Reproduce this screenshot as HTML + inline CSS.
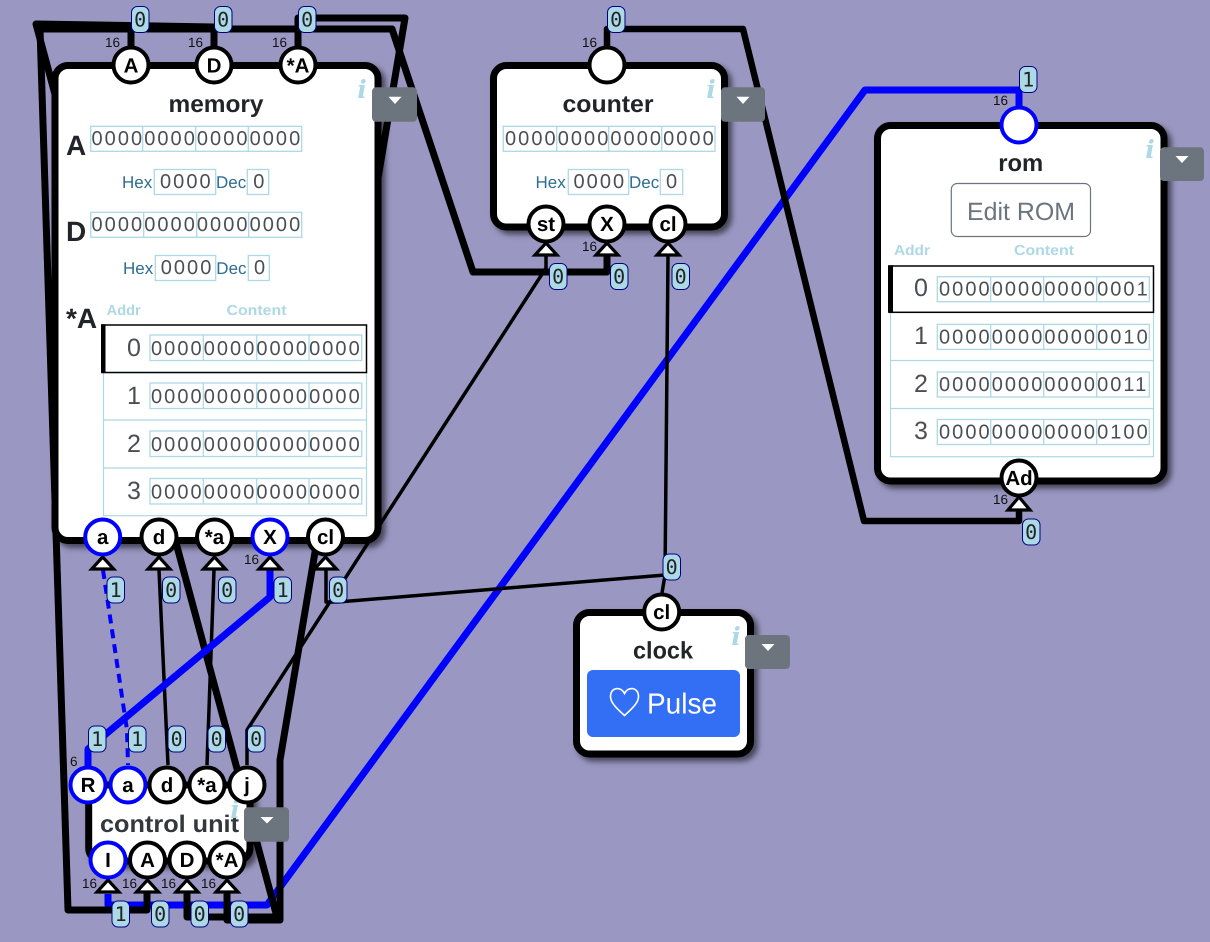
<!DOCTYPE html>
<html><head><meta charset="utf-8"><title>Diagram</title>
<style>
html,body{margin:0;padding:0;background:#9a98c2}
svg{display:block}
text{font-family:"Liberation Sans",sans-serif;fill:#212529;text-rendering:geometricPrecision}
.w{fill:none;stroke:#000;stroke-width:7;stroke-linejoin:round;stroke-linecap:round}
.t{fill:none;stroke:#000;stroke-width:3.5;stroke-linejoin:round}
.b{fill:none;stroke:#00f;stroke-width:7;stroke-linejoin:round}
.n{fill:#fff;stroke:#000;stroke-width:7;filter:drop-shadow(4px 4px 3px rgba(0,0,0,.55))}
.p{fill:#fff;stroke:#000;stroke-width:4}
.pb{fill:#fff;stroke:#00f;stroke-width:4}
.pt{font-size:20.5px;font-weight:700;text-anchor:middle;fill:#000}
.tri{fill:#fff;stroke:#000;stroke-width:3.2;stroke-linejoin:miter}
.l{fill:#add8e6;stroke:#000080;stroke-width:1}
.lt{font-family:"DejaVu Sans Mono",monospace;font-size:20px;text-anchor:middle;fill:#212529}
.s{font-size:13.5px;fill:#111}
.ti{font-size:24px;font-weight:700;text-anchor:middle}
.i{font-family:"DejaVu Serif",serif;font-size:25px;font-weight:700;font-style:italic;fill:#add8e6;text-anchor:middle}
.dd{fill:#6c757d}
.ar{fill:#fff}
.r{fill:#fff;stroke:#add8e6;stroke-width:1.3}
.rl{stroke:#add8e6;stroke-width:1.3}
.d{font-size:20px;letter-spacing:2.05px;fill:#4a4f54}
.a{font-size:25px;fill:#4a4f54}
.h{font-size:17px;fill:#2f6f91}
.big{font-size:28px;font-weight:700}
.th{font-size:14.5px;font-weight:700;fill:#add8e6}
</style></head><body>
<svg width="1210" height="942" viewBox="0 0 1210 942" xmlns="http://www.w3.org/2000/svg">
<rect width="1210" height="942" fill="#9a98c2"/>

<!-- wires -->
<polyline class="b" points="108,894 108,905 267,905 865,90 1019,90 1019,106"/>
<polyline class="w" points="131,46 131,29"/>
<polyline class="w" points="392,29 40,29 68,910 147,910 147,894"/>
<polyline class="w" points="214,46 214,27 36,24 277,917 187,917 187,894"/>
<polyline class="w" points="298,46 298,18 405,18 280,760 280,920 227,920 227,894"/>
<polyline class="w" points="392,29 473,272 607,272 607,256"/>
<polyline class="w" style="stroke-width:6.5" points="607,46 607,29 743,29 864,521 1019,521 1019,510"/>
<polyline class="t" points="247,765 247,730 546,268 546,256"/>
<polyline class="t" points="662,593 665,575 338,602 326,602 326,570"/>
<polyline class="t" points="665,577 668,256"/>
<polyline class="t" points="159,570 168,765"/>
<polyline class="t" points="214,570 207,765"/>
<polyline class="b" points="270,570 270,597 88,749 88,766"/>
<polyline points="103,570 127,730 128,765" fill="none" stroke="#00f" stroke-width="4" stroke-dasharray="9 6"/>

<!-- memory node -->
<rect class="n" x="55" y="65.5" width="323" height="475" rx="13"/>
<text class="ti" x="216" y="112" textLength="95" lengthAdjust="spacingAndGlyphs">memory</text>
<text class="i" x="362" y="98">i</text>
<text class="big" x="66" y="155">A</text>
<text class="big" x="66" y="241">D</text>
<text class="big" x="66" y="328">*A</text>

<rect class="r" x="90.7" y="126.3" width="211" height="25"/>
<line class="rl" x1="142.7" y1="126" x2="142.7" y2="151"/><line class="rl" x1="195.7" y1="126" x2="195.7" y2="151"/><line class="rl" x1="248.3" y1="126" x2="248.3" y2="151"/>
<text class="d" x="91.5" y="145">0000000000000000</text>
<text class="h" x="122" y="188">Hex</text>
<rect class="r" x="154.3" y="169.5" width="61.4" height="25"/>
<text class="d" x="160" y="188">0000</text>
<text class="h" x="216" y="188">Dec</text>
<rect class="r" x="247.3" y="169.5" width="21.4" height="25"/>
<text class="d" x="253.3" y="188">0</text>

<rect class="r" x="90.7" y="212.3" width="211" height="25"/>
<line class="rl" x1="143.7" y1="212" x2="143.7" y2="237"/><line class="rl" x1="196.7" y1="212" x2="196.7" y2="237"/><line class="rl" x1="248.7" y1="212" x2="248.7" y2="237"/>
<text class="d" x="91.5" y="231">0000000000000000</text>
<text class="h" x="123" y="274">Hex</text>
<rect class="r" x="155.3" y="255.5" width="60.4" height="25"/>
<text class="d" x="160.7" y="274">0000</text>
<text class="h" x="216.3" y="274">Dec</text>
<rect class="r" x="248.3" y="255.5" width="21" height="25"/>
<text class="d" x="254" y="274">0</text>

<text class="th" x="106.7" y="315" textLength="34" lengthAdjust="spacingAndGlyphs">Addr</text>
<text class="th" x="226.5" y="315" textLength="60" lengthAdjust="spacingAndGlyphs">Content</text>
<g>
<rect x="103.5" y="372.7" width="263" height="143" fill="#fff" stroke="#add8e6" stroke-width="1.2"/>
<line class="rl" x1="103.5" y1="420" x2="366.5" y2="420"/><line class="rl" x1="103.5" y1="468" x2="366.5" y2="468"/>
<rect x="102" y="325" width="264.5" height="47.5" fill="#fff" stroke="#000" stroke-width="1.5"/>
<rect x="101" y="324.3" width="4.5" height="48.5" fill="#000"/>
<rect class="r" x="150" y="335" width="211.7" height="25.5"/>
<line class="rl" x1="203.3" y1="335" x2="203.3" y2="360"/><line class="rl" x1="256.7" y1="335" x2="256.7" y2="360"/><line class="rl" x1="309" y1="335" x2="309" y2="360"/>
<text class="a" x="127" y="356">0</text><text class="d" x="151" y="355">0000000000000000</text>
<rect class="r" x="150" y="383" width="211.7" height="25.5"/>
<line class="rl" x1="203.3" y1="383" x2="203.3" y2="408"/><line class="rl" x1="256.7" y1="383" x2="256.7" y2="408"/><line class="rl" x1="309" y1="383" x2="309" y2="408"/>
<text class="a" x="127" y="404">1</text><text class="d" x="151" y="403">0000000000000000</text>
<rect class="r" x="150" y="431" width="211.7" height="25.5"/>
<line class="rl" x1="203.3" y1="431" x2="203.3" y2="456"/><line class="rl" x1="256.7" y1="431" x2="256.7" y2="456"/><line class="rl" x1="309" y1="431" x2="309" y2="456"/>
<text class="a" x="127" y="452">2</text><text class="d" x="151" y="451">0000000000000000</text>
<rect class="r" x="150" y="478.5" width="211.7" height="25.5"/>
<line class="rl" x1="203.3" y1="478" x2="203.3" y2="504"/><line class="rl" x1="256.7" y1="478" x2="256.7" y2="504"/><line class="rl" x1="309" y1="478" x2="309" y2="504"/>
<text class="a" x="127" y="499">3</text><text class="d" x="151" y="498.5">0000000000000000</text>
</g>

<!-- counter node -->
<rect class="n" x="493.5" y="65.5" width="231" height="161.5" rx="13"/>
<text class="ti" x="608" y="112" textLength="91" lengthAdjust="spacingAndGlyphs">counter</text>
<text class="i" x="711" y="98">i</text>
<rect class="r" x="503.3" y="126.3" width="211.7" height="25"/>
<line class="rl" x1="556.7" y1="126" x2="556.7" y2="151"/><line class="rl" x1="608.7" y1="126" x2="608.7" y2="151"/><line class="rl" x1="661.7" y1="126" x2="661.7" y2="151"/>
<text class="d" x="505" y="145">0000000000000000</text>
<text class="h" x="535.5" y="188">Hex</text>
<rect class="r" x="568.3" y="169.5" width="60.4" height="25"/>
<text class="d" x="573.5" y="188">0000</text>
<text class="h" x="629" y="188">Dec</text>
<rect class="r" x="660.3" y="169.5" width="22.4" height="25"/>
<text class="d" x="666" y="188">0</text>

<!-- rom node -->
<rect class="n" x="877.5" y="125.5" width="286.5" height="355.5" rx="13"/>
<text class="ti" x="1020.7" y="171" textLength="45" lengthAdjust="spacingAndGlyphs">rom</text>
<text class="i" x="1150" y="158">i</text>
<rect x="951.3" y="183.5" width="139.2" height="53" rx="6" fill="#fff" stroke="#6c757d" stroke-width="1.2"/>
<text x="1021" y="220" font-size="25" text-anchor="middle" style="fill:#6c757d" textLength="108" lengthAdjust="spacingAndGlyphs">Edit ROM</text>
<text class="th" x="894" y="255" textLength="36" lengthAdjust="spacingAndGlyphs">Addr</text>
<text class="th" x="1014" y="255" textLength="60" lengthAdjust="spacingAndGlyphs">Content</text>
<rect x="890.5" y="312.5" width="263" height="144.2" fill="#fff" stroke="#add8e6" stroke-width="1.2"/>
<line class="rl" x1="890.5" y1="360.5" x2="1153.5" y2="360.5"/><line class="rl" x1="890.5" y1="408.5" x2="1153.5" y2="408.5"/>
<rect x="889" y="266" width="264.5" height="46.3" fill="#fff" stroke="#000" stroke-width="1.5"/>
<rect x="888" y="265.3" width="5" height="47" fill="#000"/>
<rect class="r" x="937.3" y="276.7" width="212" height="25"/>
<line class="rl" x1="990.7" y1="277" x2="990.7" y2="302"/><line class="rl" x1="1043.7" y1="277" x2="1043.7" y2="302"/><line class="rl" x1="1096.7" y1="277" x2="1096.7" y2="302"/>
<text class="a" x="914" y="296">0</text><text class="d" x="939" y="295.7">0000000000000001</text>
<rect class="r" x="937.3" y="324.4" width="212" height="25"/>
<line class="rl" x1="990.7" y1="324" x2="990.7" y2="349"/><line class="rl" x1="1043.7" y1="324" x2="1043.7" y2="349"/><line class="rl" x1="1096.7" y1="324" x2="1096.7" y2="349"/>
<text class="a" x="914" y="344">1</text><text class="d" x="939" y="343.3">0000000000000010</text>
<rect class="r" x="937.3" y="372" width="212" height="25"/>
<line class="rl" x1="990.7" y1="372" x2="990.7" y2="397"/><line class="rl" x1="1043.7" y1="372" x2="1043.7" y2="397"/><line class="rl" x1="1096.7" y1="372" x2="1096.7" y2="397"/>
<text class="a" x="914" y="392">2</text><text class="d" x="939" y="391">0000000000000011</text>
<rect class="r" x="937.3" y="419.5" width="212" height="25"/>
<line class="rl" x1="990.7" y1="420" x2="990.7" y2="444"/><line class="rl" x1="1043.7" y1="420" x2="1043.7" y2="444"/><line class="rl" x1="1096.7" y1="420" x2="1096.7" y2="444"/>
<text class="a" x="914" y="439">3</text><text class="d" x="939" y="438.3">0000000000000100</text>

<!-- clock node -->
<rect class="n" x="576.5" y="612.5" width="174" height="141.5" rx="13"/>
<text class="ti" x="663" y="658.5" textLength="60" lengthAdjust="spacingAndGlyphs">clock</text>
<text class="i" x="736" y="645">i</text>
<rect x="587" y="670" width="153" height="67" rx="6" fill="#326ff5"/>
<path d="M624.5 715.5 C615 707 610.5 702 610.5 696.5 C610.5 687 621 686 624.5 693.5 C628 686 638.5 687 638.5 696.5 C638.5 702 634 707 624.5 715.5 Z" fill="none" stroke="#fff" stroke-width="1.6"/>
<text x="647" y="713.5" font-size="29" style="fill:#fff" textLength="70" lengthAdjust="spacingAndGlyphs">Pulse</text>

<!-- control unit node -->
<rect class="n" x="88.7" y="785" width="161.3" height="76" rx="13"/>
<text class="ti" x="169.5" y="832" textLength="139" lengthAdjust="spacingAndGlyphs" style="fill:#33383d">control unit</text>
<text class="i" x="235" y="818">i</text>

<!-- dropdowns -->
<rect class="dd" x="372" y="87.3" width="45" height="34.5" rx="4"/><polygon class="ar" points="388.5,96.7 401.5,96.7 395,104"/>
<rect class="dd" x="721" y="87.3" width="44" height="34.5" rx="4"/><polygon class="ar" points="736.5,96.7 749.5,96.7 743,104"/>
<rect class="dd" x="1160" y="147.3" width="44" height="33.7" rx="4"/><polygon class="ar" points="1175.5,156 1188.5,156 1182,163"/>
<rect class="dd" x="745" y="635" width="45" height="34" rx="4"/><polygon class="ar" points="761.5,644 774.5,644 768,651"/>
<rect class="dd" x="244" y="807.3" width="45" height="34.5" rx="4"/><polygon class="ar" points="260.5,817 273.5,817 267,823.5"/>

<!-- triangles -->
<polygon class="tri" points="102.7,557 91.7,569 113.7,569"/>
<polygon class="tri" points="159,557 148,569 170,569"/>
<polygon class="tri" points="214.5,557 203.5,569 225.5,569"/>
<polygon class="tri" points="270,557 259,569 281,569"/>
<polygon class="tri" points="325.5,557 314.5,569 336.5,569"/>
<polygon class="tri" points="546,243 535,255 557,255"/>
<polygon class="tri" points="607,243 596,255 618,255"/>
<polygon class="tri" points="668,243 657,255 679,255"/>
<polygon class="tri" points="1019,497 1008,510 1030,510"/>
<polygon class="tri" points="108,880 97,892 119,892"/>
<polygon class="tri" points="147.5,880 136.5,892 158.5,892"/>
<polygon class="tri" points="187,880 176,892 198,892"/>
<polygon class="tri" points="227,880 216,892 238,892"/>

<!-- ports -->
<circle class="p" cx="131" cy="65" r="17.5"/><text class="pt" x="131" y="72.5">A</text>
<circle class="p" cx="214" cy="65" r="17.5"/><text class="pt" x="214" y="72.5">D</text>
<circle class="p" cx="298" cy="65" r="17.5"/><text class="pt" x="298" y="72.5">*A</text>
<circle class="pb" cx="102.7" cy="537" r="17.5"/><text class="pt" x="102.7" y="544">a</text>
<circle class="p" cx="159" cy="537" r="17.5"/><text class="pt" x="159" y="544">d</text>
<circle class="p" cx="214.5" cy="537" r="17.5"/><text class="pt" x="214.5" y="544">*a</text>
<circle class="pb" cx="270" cy="537" r="17.5"/><text class="pt" x="270" y="544">X</text>
<circle class="p" cx="325.5" cy="537" r="17.5"/><text class="pt" x="325.5" y="544">cl</text>
<circle class="p" cx="607" cy="65" r="17.5"/>
<circle class="p" cx="546" cy="224" r="17.5"/><text class="pt" x="546" y="231">st</text>
<circle class="p" cx="607" cy="224" r="17.5"/><text class="pt" x="607" y="231">X</text>
<circle class="p" cx="668" cy="224" r="17.5"/><text class="pt" x="668" y="231">cl</text>
<circle class="pb" cx="1019" cy="125" r="17.5"/>
<circle class="p" cx="1019" cy="478" r="17.5"/><text class="pt" x="1019" y="485">Ad</text>
<circle class="p" cx="661.7" cy="612" r="17.5"/><text class="pt" x="661.7" y="619">cl</text>
<circle class="pb" cx="88" cy="785" r="17.5"/><text class="pt" x="88" y="792">R</text>
<circle class="pb" cx="128" cy="785" r="17.5"/><text class="pt" x="128" y="792">a</text>
<circle class="p" cx="167" cy="785" r="17.5"/><text class="pt" x="167" y="792">d</text>
<circle class="p" cx="207" cy="785" r="17.5"/><text class="pt" x="207" y="792">*a</text>
<circle class="p" cx="247" cy="785" r="17.5"/><text class="pt" x="247" y="792">j</text>
<circle class="pb" cx="108" cy="860" r="17.5"/><text class="pt" x="108" y="867">I</text>
<circle class="p" cx="147.5" cy="860" r="17.5"/><text class="pt" x="147.5" y="867">A</text>
<circle class="p" cx="187" cy="860" r="17.5"/><text class="pt" x="187" y="867">D</text>
<circle class="p" cx="227" cy="860" r="17.5"/><text class="pt" x="227" y="867">*A</text>

<!-- width labels -->
<text class="s" x="105" y="47">16</text>
<text class="s" x="188" y="47">16</text>
<text class="s" x="272" y="47">16</text>
<text class="s" x="582" y="47">16</text>
<text class="s" x="993" y="105">16</text>
<text class="s" x="993" y="504">16</text>
<text class="s" x="582" y="251">16</text>
<text class="s" x="244" y="564">16</text>
<text class="s" x="70" y="766">6</text>
<text class="s" x="82" y="888">16</text>
<text class="s" x="122" y="888">16</text>
<text class="s" x="161" y="888">16</text>
<text class="s" x="201" y="888">16</text>

<!-- value labels -->
<rect class="l" x="131.5" y="6.5" width="17.5" height="26" rx="6"/><text class="lt" x="140.2" y="26.5">0</text>
<rect class="l" x="214.5" y="6.5" width="17.5" height="26" rx="6"/><text class="lt" x="223.2" y="26.5">0</text>
<rect class="l" x="298.5" y="6.5" width="17.5" height="26" rx="6"/><text class="lt" x="307.2" y="26.5">0</text>
<rect class="l" x="607.5" y="6.5" width="17.5" height="26" rx="6"/><text class="lt" x="616.2" y="26.5">0</text>
<rect class="l" x="1019.5" y="66.5" width="17.5" height="26" rx="6"/><text class="lt" x="1028.2" y="86.5">1</text>
<rect class="l" x="1022.5" y="519" width="17.5" height="26" rx="6"/><text class="lt" x="1031.2" y="539">0</text>
<rect class="l" x="549.5" y="263.5" width="17.5" height="26" rx="6"/><text class="lt" x="558.2" y="283.5">0</text>
<rect class="l" x="610.5" y="263.5" width="17.5" height="26" rx="6"/><text class="lt" x="619.2" y="283.5">0</text>
<rect class="l" x="672" y="263.5" width="17.5" height="26" rx="6"/><text class="lt" x="680.7" y="283.5">0</text>
<rect class="l" x="107" y="577" width="17.5" height="26" rx="6"/><text class="lt" x="115.7" y="597">1</text>
<rect class="l" x="162.5" y="577" width="17.5" height="26" rx="6"/><text class="lt" x="171.2" y="597">0</text>
<rect class="l" x="218.5" y="577" width="17.5" height="26" rx="6"/><text class="lt" x="227.2" y="597">0</text>
<rect class="l" x="274" y="577" width="17.5" height="26" rx="6"/><text class="lt" x="282.7" y="597">1</text>
<rect class="l" x="329.5" y="577" width="17.5" height="26" rx="6"/><text class="lt" x="338.2" y="597">0</text>
<rect class="l" x="663" y="554" width="17.5" height="26" rx="6"/><text class="lt" x="671.7" y="574">0</text>
<rect class="l" x="88.5" y="726" width="17.5" height="26" rx="6"/><text class="lt" x="97.2" y="746">1</text>
<rect class="l" x="128.5" y="726" width="17.5" height="26" rx="6"/><text class="lt" x="137.2" y="746">1</text>
<rect class="l" x="168" y="726" width="17.5" height="26" rx="6"/><text class="lt" x="176.7" y="746">0</text>
<rect class="l" x="208" y="726" width="17.5" height="26" rx="6"/><text class="lt" x="216.7" y="746">0</text>
<rect class="l" x="247.5" y="726" width="17.5" height="26" rx="6"/><text class="lt" x="256.2" y="746">0</text>
<rect class="l" x="112" y="901" width="17.5" height="26" rx="6"/><text class="lt" x="120.7" y="921">1</text>
<rect class="l" x="151.5" y="901" width="17.5" height="26" rx="6"/><text class="lt" x="160.2" y="921">0</text>
<rect class="l" x="191" y="901" width="17.5" height="26" rx="6"/><text class="lt" x="199.7" y="921">0</text>
<rect class="l" x="230.5" y="901" width="17.5" height="26" rx="6"/><text class="lt" x="239.2" y="921">0</text>
</svg>
</body></html>
